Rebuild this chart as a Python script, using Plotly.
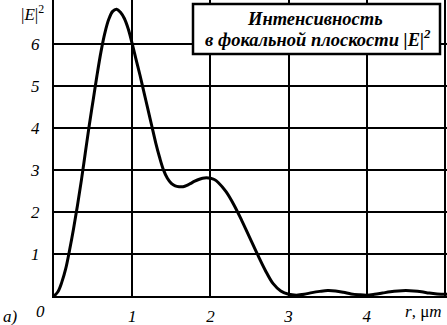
import plotly.graph_objects as go

r_um = [0, 0.05, 0.1, 0.15, 0.2, 0.25, 0.3, 0.35, 0.4, 0.45, 0.5, 0.55, 0.6, 0.65, 0.7, 0.75,
        0.8, 0.85, 0.9, 0.95, 1.0, 1.05, 1.1, 1.15, 1.2, 1.25, 1.3, 1.35, 1.4, 1.45, 1.5, 1.55,
        1.6, 1.65, 1.7, 1.75, 1.8, 1.85, 1.9, 1.95, 2.0, 2.05, 2.1, 2.2, 2.3, 2.4, 2.5, 2.6,
        2.7, 2.8, 2.9, 3.0, 3.1, 3.2, 3.3, 3.4, 3.5, 3.6, 3.7, 3.8, 3.9, 4.0, 4.1, 4.2, 4.3,
        4.4, 4.5, 4.6, 4.7, 4.8, 4.9, 5.0, 5.03]
intensity = [0, 0.1, 0.33, 0.65, 1.1, 1.6, 2.15, 2.75, 3.4, 4.05, 4.65, 5.25, 5.8, 6.25, 6.58, 6.77,
             6.82, 6.75, 6.6, 6.35, 6.0, 5.62, 5.25, 4.85, 4.45, 4.05, 3.65, 3.3, 3.0, 2.8, 2.68, 2.62,
             2.6, 2.6, 2.63, 2.68, 2.73, 2.77, 2.8, 2.81, 2.8, 2.77, 2.7, 2.48, 2.17, 1.8, 1.4, 1.0,
             0.62, 0.3, 0.12, 0.04, 0.02, 0.04, 0.08, 0.11, 0.13, 0.12, 0.09, 0.05, 0.03, 0.02, 0.04,
             0.07, 0.1, 0.12, 0.13, 0.12, 0.1, 0.07, 0.05, 0.04, 0.04]

x_tickvals = [1, 2, 3, 4, 5]
x_ticktext = ["1", "2", "3", "4", " "]
y_tickvals = [1, 2, 3, 4, 5, 6]
y_ticktext = ["1", "2", "3", "4", "5", "6"]

FONT = "Liberation Serif"

fig = go.Figure()
fig.add_trace(go.Scatter(x=r_um, y=intensity, mode="lines",
                         line=dict(color="black", width=3, shape="spline", smoothing=1.0),
                         showlegend=False, hoverinfo="skip"))

fig.update_layout(
    width=447, height=325,
    margin=dict(l=54, r=0, t=0, b=29),
    paper_bgcolor="white", plot_bgcolor="white",
    font=dict(family=FONT, size=17, color="black"),
    xaxis=dict(range=[0, 5.026], tickvals=x_tickvals, ticktext=x_ticktext,
               showgrid=True, gridcolor="black", gridwidth=2,
               showline=True, linecolor="black", linewidth=2,
               zeroline=False, ticks="", ticklabelstandoff=4,
               tickfont=dict(family=FONT, size=17, style="italic")),
    yaxis=dict(range=[0, 7.04], tickvals=y_tickvals, ticktext=y_ticktext,
               showgrid=True, gridcolor="black", gridwidth=2,
               showline=True, linecolor="black", linewidth=2,
               zeroline=False, ticks="", ticklabelstandoff=9,
               tickfont=dict(family=FONT, size=17, style="italic")),
)

# legend-like box
fig.add_shape(type="rect", xref="paper", yref="paper",
              x0=(193 - 54) / 393, x1=(440 - 54) / 393,
              y0=(296 - 54) / 296, y1=(296 - 4) / 296,
              fillcolor="white", line=dict(color="black", width=2.5), layer="above")
fig.add_annotation(xref="paper", yref="paper", x=(315 - 54) / 393, y=(296 - 19) / 296,
                   text="<b><i>Интенсивность</i></b>",
                   showarrow=False, font=dict(family=FONT, size=18.5, color="black"),
                   xanchor="center", yanchor="middle")
fig.add_annotation(xref="paper", yref="paper", x=(318 - 54) / 393, y=(296 - 38) / 296,
                   text="<b><i>в фокальной плоскости |E|<sup>2</sup></i></b>",
                   showarrow=False, font=dict(family=FONT, size=18.5, color="black"),
                   xanchor="center", yanchor="middle")

# axis labels and extra texts
fig.add_annotation(xref="paper", yref="paper", x=(46 - 54) / 393, y=(296 - 13) / 296,
                   text="|<i>E</i>|<sup>2</sup>", showarrow=False,
                   font=dict(family=FONT, size=17), xanchor="right", yanchor="middle")
fig.add_annotation(xref="paper", yref="paper", x=(40 - 54) / 393, y=(296 - 312) / 296,
                   text="<i>0</i>", showarrow=False,
                   font=dict(family=FONT, size=17), xanchor="center", yanchor="middle")
fig.add_annotation(xref="paper", yref="paper", x=(444 - 54) / 393, y=(296 - 312) / 296,
                   text="<i>r</i>, μ<i>m</i>", showarrow=False,
                   font=dict(family=FONT, size=17), xanchor="right", yanchor="middle")
fig.add_annotation(xref="paper", yref="paper", x=(1 - 54) / 393, y=(296 - 316) / 296,
                   text="<i>a)</i>", showarrow=False,
                   font=dict(family=FONT, size=17), xanchor="left", yanchor="middle")

fig.write_html("out.html", config={"displayModeBar": False},
               post_script="document.body.style.margin='0';document.body.style.overflow='hidden';")
